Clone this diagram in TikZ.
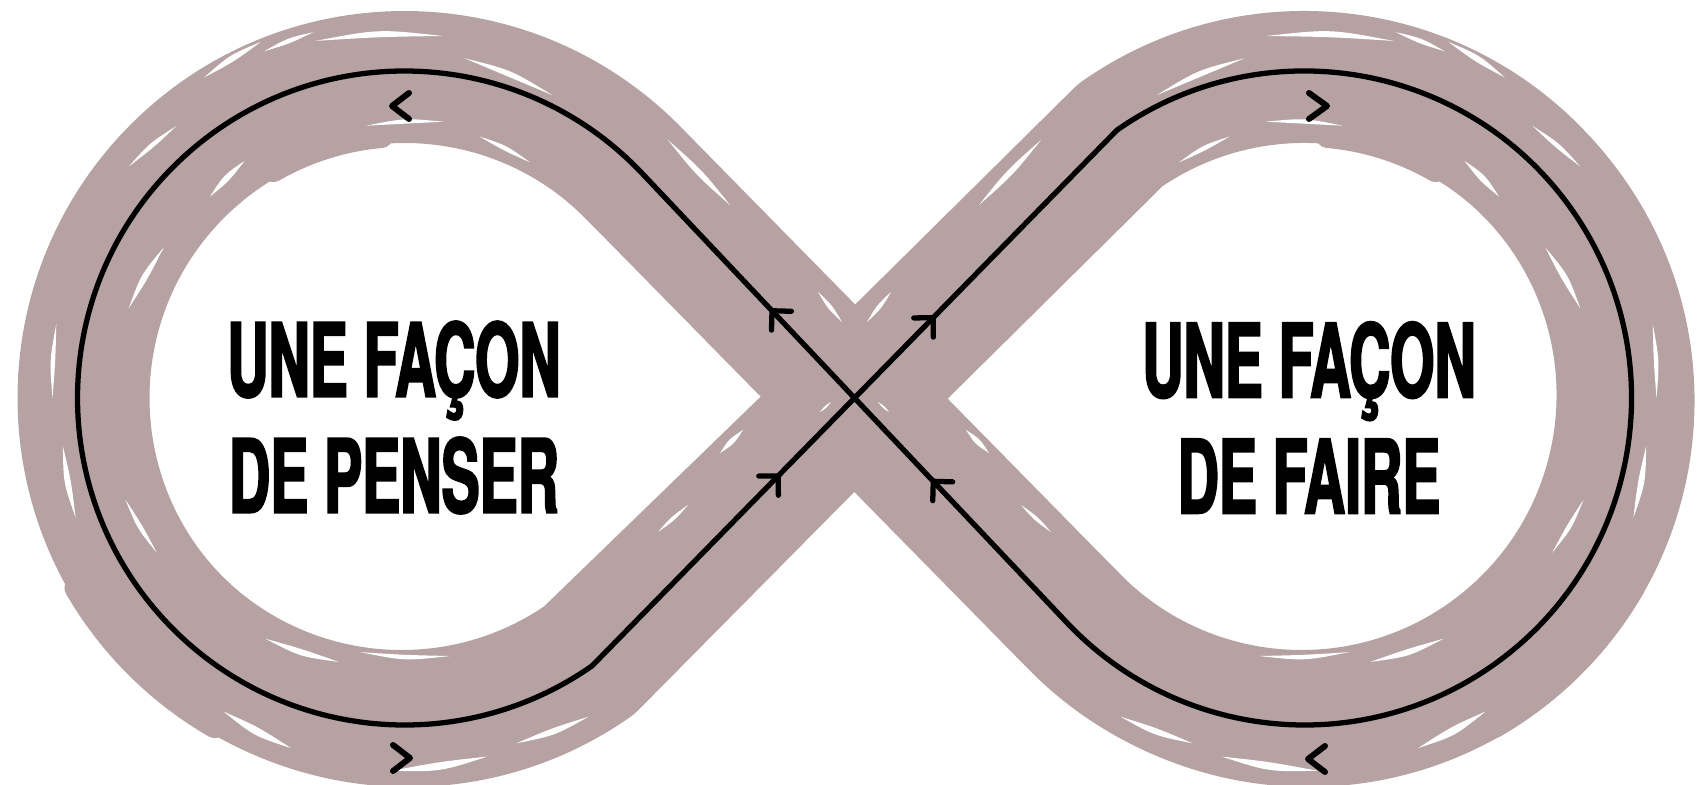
\documentclass[tikz,border=0pt]{standalone}
\usepackage{fontspec}
\newfontfamily\capsfont[FakeStretch=0.56,FakeBold=2]{TeX Gyre Heros}
\usetikzlibrary{calc,decorations.markings}
\definecolor{mauve}{RGB}{182,162,163}
\begin{document}
\begin{tikzpicture}[x=0.1mm,y=-0.1mm,
  bandstroke/.style={draw=mauve, line join=round, line cap=round},
  sliver/.style={fill=white, draw=none},
  blackloop/.style={draw=black, line width=1.5pt, line join=round},
  flowarrow/.style={postaction={decorate},
    decoration={markings, mark=at position #1 with {\draw[black, line width=1.5pt, line cap=round, line join=round] (-3.9pt,3.9pt) -- (0pt,0pt) -- (-3.9pt,-3.9pt);}}},
  chev/.style={draw=black, line width=1.7pt, line cap=round, line join=round},
  lbl/.style={font=\capsfont\bfseries\fontsize{29}{33}\selectfont, align=center, inner sep=0pt, text=black}]
\useasboundingbox (0,0) rectangle (1708,785);
\fill[white] (0,0) rectangle (1708,785);

% sketchy band
\foreach \dx/\dy/\r/\w in {0/0/321/132, -3/-3/317/124, 4/3/325/122, 2/-4/323/112, -4/4/319/114} {
  \pgfmathsetmacro\ang{acos(\r/450)}
  \draw[bandstroke, line width={\w*0.2845pt}]
    ({854.5+\dx},{398+\dy}) -- ($({404.5+\dx},{398+\dy})+(-\ang:\r)$)
    arc[start angle=-\ang, end angle=-305, radius=\r]
    -- ({854.5+\dx},{398+\dy})
    -- ($({1304.5+\dx},{398+\dy})+(-125:\r)$)
    arc[start angle=-125, end angle={180-\ang}, radius=\r] -- cycle;
}

\foreach \sx/\sc in {0/1, 1709/-1} {
\begin{scope}[shift={(\sx,0)}, xscale=\sc]
  % extra scribble strokes roughening the edges
  \foreach \r/\a/\b/\w in {372/-150/-118/26, 262/-120/-95/22, 380/150/120/22, 268/100/70/20, 376/-80/-60/18} {
    \draw[bandstroke, line width={\w*0.2845pt}] ($(404.5,398)+(\a:\r)$) arc[start angle=\a, end angle=\b, radius=\r];
  }
  % white slivers between strokes
  \foreach \r/\a/\b/\t/\h in {368/-104/-84/-4/4, 374/-112/-104/3/3, 345/-80/-64/-8/4, 378/-122/-112/6/4,
      360/-140/-130/-5/3, 275/-98/-82/4/3, 272/-74/-62/-5/3, 280/-134/-124/6/4, 290/-162/-148/-6/4,
      352/-180/-168/4/3, 350/160/172/-5/4, 292/148/160/5/3, 368/108/120/-6/5, 272/104/120/6/4,
      262/80/100/-4/3, 368/77/92/5/5, 368/60/72/-5/4} {
    \fill[sliver] ($(404.5,398)+(\a:\r)$)
      .. controls ($(404.5,398)+({(\a+\b)/2}:{\r+\t/2+\h})$) .. ($(404.5,398)+(\b:{\r+\t})$)
      .. controls ($(404.5,398)+({(\a+\b)/2}:{\r+\t/2-\h})$) .. ($(404.5,398)+(\a:\r)$) -- cycle;
  }
  \fill[sliver] (668,140) .. controls (696,175) .. (730,205) .. controls (702,170) .. (668,140) -- cycle;
  \fill[sliver] (818,292) .. controls (828,309) .. (842,322) .. controls (832,305) .. (818,292) -- cycle;
  \fill[sliver] (658,532) .. controls (675,520) .. (688,505) .. controls (671,517) .. (658,532) -- cycle;
  \fill[sliver] (820,412) .. controls (826.5,408) .. (831,402) .. controls (824.5,406) .. (820,412) -- cycle;
  \fill[sliver] (720,453) .. controls (734,444) .. (743,430) .. controls (729,439) .. (720,453) -- cycle;
\end{scope}
}

% black flow line
\coordinate (P) at (854.5,398);
\coordinate (CL) at (404.5,398);
\coordinate (CR) at (1304.5,398);
\coordinate (TL) at ($(CL)+(-43.3:327)$);
\coordinate (BL) at ($(CL)+(55:327)$);
\coordinate (TR) at ($(CR)+(-125:327)$);
\coordinate (BR) at ($(CR)+(136.7:327)$);
\draw[blackloop] (P) -- (TL) arc[start angle=-43.3, end angle=-305, radius=327]
  -- (P) -- (TR) arc[start angle=-125, end angle=136.7, radius=327] -- cycle;

\path[flowarrow=0.39] (P) -- (TL);
\path[flowarrow=0.30] (P) -- (TR);
\path[flowarrow=0.71] (BL) -- (P);
\path[flowarrow=0.63] (BR) -- (P);

% chevrons in the band
\draw[chev] (409,93) -- (392,106) -- (409,119);
\draw[chev] (1309,93) -- (1327,106) -- (1309,119);
\draw[chev] (393,745) -- (410,758) -- (393,771);
\draw[chev] (1325,746) -- (1308,759) -- (1325,772);

% labels
\node[lbl] (penser) at (394,417.5) {UNE FAÇON\\DE PENSER};
\node[lbl] (faire) at (1309,417.5) {UNE FAÇON\\DE FAIRE};
\end{tikzpicture}
\end{document}
